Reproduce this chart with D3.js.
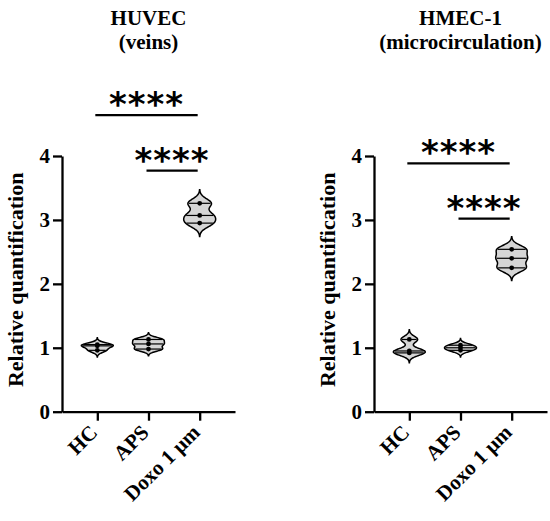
<!DOCTYPE html>
<html>
<head>
<meta charset="utf-8">
<script src="https://cdn.jsdelivr.net/npm/d3@7"></script>
<style>
  body { margin: 0; background: #fff; }
  svg text { font-family: 'Liberation Serif', 'Times New Roman', serif; font-weight: bold; }
  .axis path, .axis line { stroke: #000; stroke-width: 2.3px; }
  .axis text { font-size: 21px; fill: #000; }
  .stars { font-family: 'DejaVu Sans', sans-serif !important; }
</style>
</head>
<body>
<svg id="chart"></svg>
<script>
// groups along the x axis
const categories = ['HC', 'APS', 'Doxo 1 μm'];

// relative quantification, three replicates per group
const huvecValues = [
  [0.96, 1.03, 1.05],
  [0.98, 1.06, 1.13],
  [2.95, 3.07, 3.26],
];
const hmecValues = [
  [0.92, 0.95, 1.13],
  [0.96, 1.00, 1.04],
  [2.25, 2.40, 2.54],
];

const yTicks = [0, 1, 2, 3, 4];

const huvecTitle = ['HUVEC', '(veins)'];
const hmecTitle = ['HMEC-1', '(microcirculation)'];

// significance bars: [from group, to group, height in data units, label]
const huvecBrackets = [
  ['HC', 'Doxo 1 μm', 4.64, '****'],
  ['APS', 'Doxo 1 μm', 3.77, '****'],
];
const hmecBrackets = [
  ['HC', 'Doxo 1 μm', 3.885, '****'],
  ['APS', 'Doxo 1 μm', 3.02, '****'],
];

class ViolinPanel {
  constructor(_config, _data, _brackets, _title) {
    this.config = {
      svg: _config.svg,
      left: _config.left,
      width: 173,
      top: 156,
      bottom: 411.7,
      halfWidth: 16, // widest point of every violin, px
    };
    this.data = _data;
    this.brackets = _brackets;
    this.title = _title;
    this.initVis();
  }

  initVis() {
    let vis = this;
    vis.g = vis.config.svg.append('g');

    vis.xScale = d3
      .scalePoint()
      .domain(categories)
      .range([vis.config.left, vis.config.left + vis.config.width])
      .padding(0.69);

    vis.yScale = d3
      .scaleLinear()
      .domain([0, 4])
      .range([vis.config.bottom, vis.config.top]);

    vis.xAxis = d3.axisBottom(vis.xScale).tickSizeInner(9).tickSizeOuter(0);
    vis.yAxis = d3
      .axisLeft(vis.yScale)
      .tickValues(yTicks)
      .tickFormat(d3.format('d'))
      .tickSizeInner(9)
      .tickSizeOuter(0)
      .tickPadding(3);

    this.renderVis();
  }

  // gaussian kernel density on a grid round the values
  density(values) {
    const bw = Math.max(0.45 * d3.deviation(values), 0.035);
    const lo = d3.min(values) - 3 * bw;
    const hi = d3.max(values) + 3 * bw;
    const n = 80;
    const pts = d3.range(n + 1).map((i) => {
      const v = lo + ((hi - lo) * i) / n;
      const d = d3.mean(values, (x) => Math.exp(-0.5 * ((v - x) / bw) ** 2));
      return [v, d];
    });
    const maxD = d3.max(pts, (p) => p[1]);
    const f = (v) =>
      d3.mean(values, (x) => Math.exp(-0.5 * ((v - x) / bw) ** 2)) / maxD;
    return { pts: pts.map((p) => [p[0], p[1] / maxD]), f: f };
  }

  // quartiles the way Prism does it, position (n+1)p
  quartile(sorted, p) {
    const pos = (sorted.length + 1) * p - 1;
    const i = Math.max(0, Math.min(sorted.length - 1, Math.floor(pos)));
    const j = Math.min(sorted.length - 1, i + 1);
    const frac = Math.max(0, pos - i);
    return sorted[i] + (sorted[j] - sorted[i]) * frac;
  }

  renderVis() {
    let vis = this;
    const hw = vis.config.halfWidth;

    vis.data.forEach((values, i) => {
      const cx = vis.xScale(categories[i]);
      const kde = vis.density(values);

      const area = d3
        .area()
        .curve(d3.curveBasis)
        .y((d) => vis.yScale(d[0]))
        .x0((d) => cx - d[1] * hw)
        .x1((d) => cx + d[1] * hw);

      vis.g
        .append('path')
        .datum(kde.pts)
        .attr('d', area)
        .attr('fill', '#d6d6d6')
        .attr('stroke', '#000')
        .attr('stroke-width', 1.5);

      const sorted = values.slice().sort(d3.ascending);
      const lines = [0.25, 0.5, 0.75].map((p) => vis.quartile(sorted, p));
      vis.g
        .selectAll(null)
        .data(lines)
        .join('line')
        .attr('x1', (d) => cx - kde.f(d) * hw + 1)
        .attr('x2', (d) => cx + kde.f(d) * hw - 1)
        .attr('y1', (d) => vis.yScale(d))
        .attr('y2', (d) => vis.yScale(d))
        .attr('stroke', '#000')
        .attr('stroke-width', 1.2);

      vis.g
        .selectAll(null)
        .data(values)
        .join('circle')
        .attr('cx', cx)
        .attr('cy', (d) => vis.yScale(d))
        .attr('r', 2.4)
        .attr('fill', '#000');
    });

    // axes
    vis.g
      .append('g')
      .attr('class', 'axis')
      .attr('transform', `translate(0,${vis.config.bottom})`)
      .call(vis.xAxis)
      .selectAll('text')
      .attr('text-anchor', 'end')
      .attr('dy', null)
      .attr('y', null)
      .attr('transform', 'translate(1,22) rotate(-45)');

    vis.g
      .append('g')
      .attr('class', 'axis')
      .attr('transform', `translate(${vis.config.left},0)`)
      .call(vis.yAxis);

    vis.g
      .append('text')
      .attr('transform', `translate(${vis.config.left - 39},${(vis.config.top + vis.config.bottom) / 2 - 4}) rotate(-90)`)
      .attr('text-anchor', 'middle')
      .style('font-size', '22px')
      .text('Relative quantification');

    // title
    const tx = vis.config.left + vis.config.width / 2;
    vis.g
      .selectAll('.title')
      .data(vis.title)
      .join('text')
      .attr('class', 'title')
      .attr('x', tx)
      .attr('y', (d, i) => 25 + i * 24)
      .attr('text-anchor', 'middle')
      .style('font-size', '21px')
      .text((d) => d);

    // significance bars
    vis.brackets.forEach((b) => {
      const y = vis.yScale(b[2]);
      const x1 = vis.xScale(b[0]) - 2;
      const x2 = vis.xScale(b[1]) - 2;
      vis.g
        .append('line')
        .attr('x1', x1)
        .attr('x2', x2)
        .attr('y1', y)
        .attr('y2', y)
        .attr('stroke', '#000')
        .attr('stroke-width', 2.3);
      vis.g
        .append('text')
        .attr('class', 'stars')
        .attr('x', (x1 + x2) / 2)
        .attr('y', y + 1)
        .attr('text-anchor', 'middle')
        .style('font-size', '34px')
        .style('letter-spacing', '1px')
        .text(b[3]);
    });
  }
}

const svg = d3.select('#chart').attr('width', 550).attr('height', 521);

new ViolinPanel({ svg: svg, left: 62 }, huvecValues, huvecBrackets, huvecTitle);
new ViolinPanel({ svg: svg, left: 374 }, hmecValues, hmecBrackets, hmecTitle);
</script>
</body>
</html>
